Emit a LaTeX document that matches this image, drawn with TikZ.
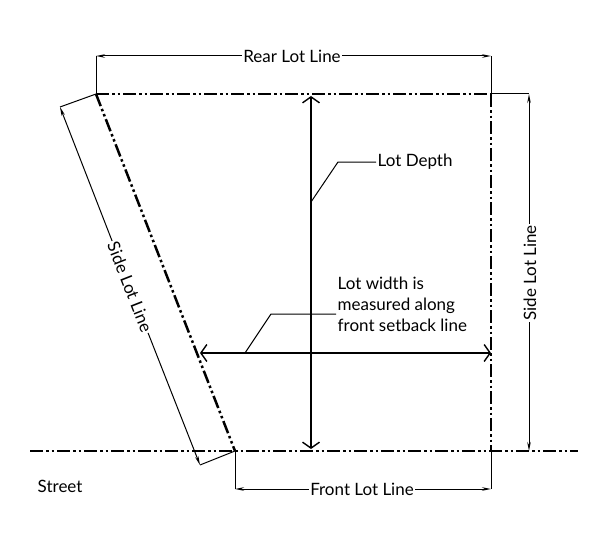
\documentclass[tikz,border=0pt]{standalone}
\usepackage{fontspec}
\setmainfont{Lato}
\usetikzlibrary{arrows.meta}
\tikzset{
  lotline/.style={black,line width=2.5pt,dash pattern=on 13pt off 3pt on 2.5pt off 3pt on 2.5pt off 3pt},
  streetline/.style={black,line width=2pt,dash pattern=on 13pt off 3pt on 2.5pt off 3pt on 2.5pt off 3pt},
  dimline/.style={black,line width=1pt,-{Stealth[length=9pt,width=3.5pt]}},
  extline/.style={black,line width=1pt},
  measure/.style={black,line width=1.4pt,{Straight Barb[length=6pt,width=17pt]}-{Straight Barb[length=6pt,width=17pt]}},
  leader/.style={black,line width=1pt},
  lbl/.style={inner sep=1.5pt,font=\fontsize{17}{21}\selectfont}
}
\begin{document}
\begin{tikzpicture}[x=1pt,y=-1pt]
\useasboundingbox (0,0) rectangle (600,535);
% corners of the lot
\coordinate (rearL) at (96,94);
\coordinate (rearR) at (491,94);
\coordinate (frontL) at (235,451);
\coordinate (frontR) at (491,451);
\coordinate (streetL) at (30,451);
\coordinate (streetR) at (578,451);

\draw[lotline] (rearL) -- (rearR);
\draw[lotline] (rearL) -- (frontL);
\draw[lotline] (rearR) -- (frontR);
\draw[streetline] (streetL) -- (streetR);

% rear and front dimensions
\coordinate (rearLup) at (96,56);
\coordinate (rearRup) at (491,56);
\coordinate (frontLdn) at (235,489);
\coordinate (frontRdn) at (491,489);
\node[lbl] (rear) at (292,56) {Rear Lot Line};
\node[lbl] (front) at (362,489) {Front Lot Line};
\draw[extline] (rearL) -- (rearLup);
\draw[extline] (rearR) -- (rearRup);
\draw[extline] (frontL) -- (frontLdn);
\draw[extline] (frontR) -- (frontRdn);
\draw[dimline] (rear) -- (rearLup);
\draw[dimline] (rear) -- (rearRup);
\draw[dimline] (front) -- (frontLdn);
\draw[dimline] (front) -- (frontRdn);

% side dimensions
\coordinate (sideRtop) at (529,94);
\coordinate (sideRbot) at (529,451);
\coordinate (sideLtop) at (60,107);
\coordinate (sideLbot) at (200,465);
\node[lbl,rotate=90] (sideR) at (530,273) {Side Lot Line};
\node[lbl,rotate=-68.6] (sideL) at (130,287) {Side Lot Line};
\draw[extline] (rearR) -- (sideRtop);
\draw[dimline] (sideR.east -| sideRtop) -- (sideRtop);
\draw[dimline] (sideR.west -| sideRbot) -- (sideRbot);
\draw[extline] (rearL) -- (sideLtop);
\draw[extline] (frontL) -- (sideLbot);
\draw[dimline] (sideL) -- (sideLtop);
\draw[dimline] (sideL) -- (sideLbot);

% depth and width
\coordinate (depthT) at (311,96);
\coordinate (depthB) at (311,449);
\coordinate (depthA) at (311,202);
\coordinate (depthK) at (338,162);
\coordinate (widthL) at (200,353);
\coordinate (widthR) at (491,353);
\coordinate (widthA) at (245,353);
\coordinate (widthK) at (271,314);
\draw[measure] (depthT) -- (depthB);
\draw[measure] (widthL) -- (widthR);
\node[lbl,anchor=west] (depth) at (376,162) {Lot Depth};
\node[lbl,anchor=west,align=left] (width) at (336,304) {Lot width is\\measured along\\front setback line};
\draw[leader] (depthA) -- (depthK) -- (depth);
\draw[leader] (widthA) -- (widthK) -- (width.west |- widthK);

\node[lbl,anchor=west] (street) at (36,486) {Street};
\end{tikzpicture}
\end{document}
